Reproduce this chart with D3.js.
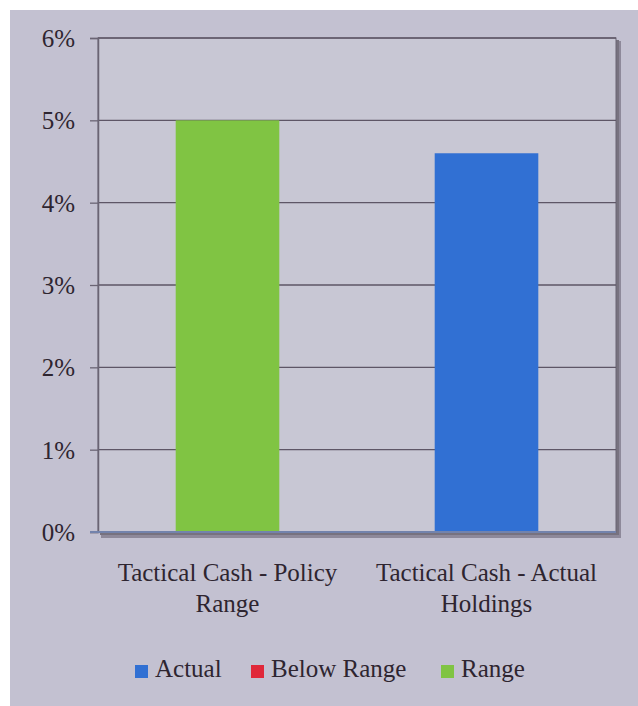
<!DOCTYPE html>
<html>
<head>
<meta charset="utf-8">
<script src="https://cdn.jsdelivr.net/npm/d3@7"></script>
</head>
<body style="margin:0">
<svg id="chart" width="638" height="706"></svg>
<script>
// Categories (two-line labels) and stacked series values (fractions)
const categories = ["Tactical Cash - Policy Range", "Tactical Cash - Actual Holdings"];
const categoryLines = [["Tactical Cash - Policy", "Range"], ["Tactical Cash - Actual", "Holdings"]];
const seriesNames = ["Actual", "Below Range", "Range"];
const actualValues = [0, 0.046];
const belowRangeValues = [0, 0];
const rangeValues = [0.05, 0];
const yTicks = [0, 0.01, 0.02, 0.03, 0.04, 0.05, 0.06];
const seriesColors = ["#3170d3", "#e0283a", "#80c443"];

const SERIF = '"Liberation Serif"';
const TEXT_COLOR = "#2e2530";

const rows = categories.map((c, i) => ({
  category: c,
  "Actual": actualValues[i],
  "Below Range": belowRangeValues[i],
  "Range": rangeValues[i]
}));

const svg = d3.select("#chart");
const W = 638, H = 706;
const plot = { left: 98, right: 616, top: 38, bottom: 532 };

// Panel background
svg.append("rect").attr("x", 10).attr("y", 10).attr("width", W - 10).attr("height", H - 10)
  .attr("fill", "#c3c1d1");

// Offset shadow behind the plot area
svg.append("rect")
  .attr("x", plot.left + 3).attr("y", plot.top + 3)
  .attr("width", plot.right - plot.left + 2).attr("height", plot.bottom - plot.top + 3)
  .attr("fill", "#8e899a");
svg.append("rect")
  .attr("x", plot.left + 2).attr("y", plot.top + 2)
  .attr("width", plot.right - plot.left + 1).attr("height", plot.bottom - plot.top + 1)
  .attr("fill", "#77727f");

svg.append("rect")
  .attr("x", plot.left).attr("y", plot.top)
  .attr("width", plot.right - plot.left).attr("height", plot.bottom - plot.top)
  .attr("fill", "#c8c7d4")
  .attr("stroke", "#6a6474").attr("stroke-width", 1);

const x = d3.scaleBand().domain(categories).range([plot.left, plot.right]).padding(0);
const y = d3.scaleLinear().domain([0, 0.06]).range([plot.bottom, plot.top]);
const barW = x.bandwidth() / 2.5;

// Horizontal gridlines
svg.append("g").selectAll("line").data(yTicks.filter(t => t > 0)).join("line")
  .attr("x1", plot.left).attr("x2", plot.right)
  .attr("y1", d => y(d)).attr("y2", d => y(d))
  .attr("stroke", "#5e5666").attr("stroke-width", 1.3);

// Stacked bars
const stacked = d3.stack().keys(seriesNames)(rows);
svg.append("g").selectAll("g").data(stacked).join("g")
  .attr("fill", (d, i) => seriesColors[i])
  .selectAll("rect").data(d => d.filter(s => s[1] - s[0] > 0)).join("rect")
  .attr("x", d => x(d.data.category) + (x.bandwidth() - barW) / 2)
  .attr("width", barW)
  .attr("y", d => y(d[1]))
  .attr("height", d => y(d[0]) - y(d[1]));

// Y axis
const yAxis = svg.append("g").attr("transform", `translate(${plot.left},0)`)
  .call(d3.axisLeft(y).tickValues(yTicks).tickFormat(d3.format(".0%")).tickSize(8).tickPadding(15));
yAxis.attr("font-family", null).attr("font-size", null);
yAxis.select(".domain").attr("stroke", "#6a6474").attr("stroke-width", 1.5);
yAxis.selectAll(".tick line").attr("stroke", "#6a6474").attr("stroke-width", 1.3);
yAxis.selectAll(".tick text")
  .style("font-family", SERIF).style("font-size", "25px")
  .attr("fill", TEXT_COLOR).attr("dy", "0.34em");

// Category axis baseline
svg.append("line")
  .attr("x1", plot.left - 8).attr("x2", plot.right)
  .attr("y1", y(0)).attr("y2", y(0))
  .attr("stroke", "#7383ac").attr("stroke-width", 2);

// Category labels, one text element per line
categories.forEach((c, i) => {
  const cx = x(c) + x.bandwidth() / 2;
  categoryLines[i].forEach((line, j) => {
    svg.append("text").attr("x", cx).attr("y", 581 + j * 31).attr("text-anchor", "middle")
      .style("font-family", SERIF).style("font-size", "25px").attr("fill", TEXT_COLOR)
      .text(line);
  });
});

// Legend
const legendX = [135, 251, 441];
seriesNames.forEach((name, i) => {
  svg.append("rect").attr("x", legendX[i]).attr("y", 665).attr("width", 13).attr("height", 13)
    .attr("fill", seriesColors[i]);
  svg.append("text").attr("x", legendX[i] + 20).attr("y", 677)
    .style("font-family", SERIF).style("font-size", "25px").attr("fill", TEXT_COLOR).text(name);
});
</script>
</body>
</html>
